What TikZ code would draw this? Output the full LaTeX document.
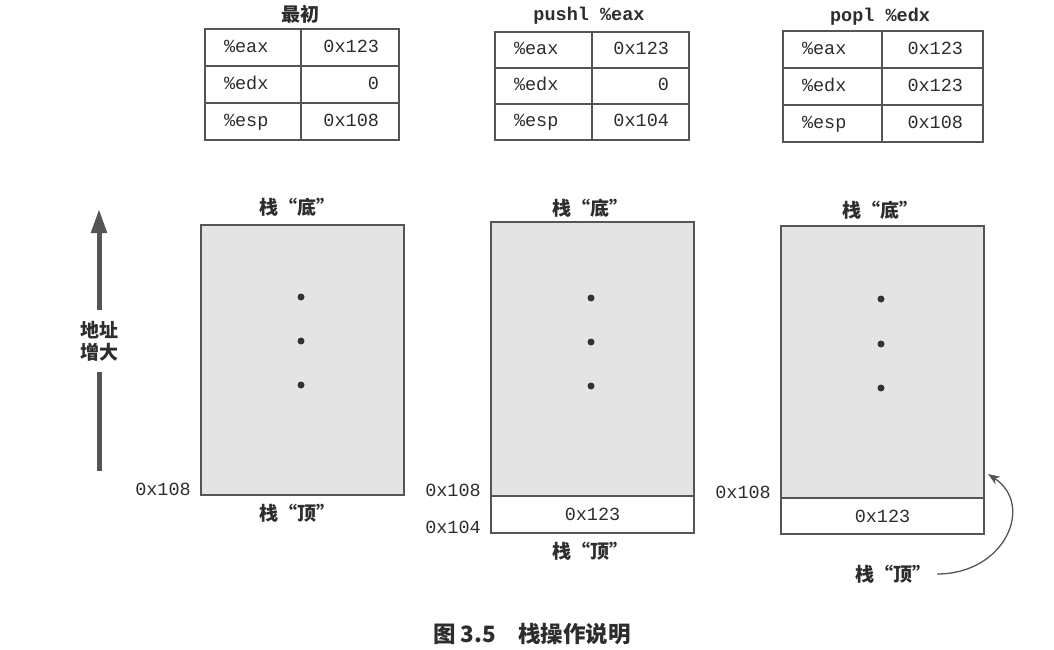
\documentclass[tikz,border=0pt]{standalone}
\usepackage{fontspec}
\setmainfont{Liberation Serif}
\setmonofont{Liberation Mono}
\newfontfamily\cjk{Noto Sans CJK SC}
\usetikzlibrary{arrows.meta}
\definecolor{linec}{RGB}{85,85,85}
\definecolor{txtc}{RGB}{45,45,45}
\definecolor{stackfill}{RGB}{228,228,228}
\definecolor{dotc}{RGB}{50,50,50}
\newcommand\monotxt{\fontsize{18.5}{20}\selectfont\ttfamily}
\newcommand\cjktxt{\fontsize{19}{22}\selectfont\cjk\bfseries}
\tikzset{
  cell/.style={draw=linec, line width=1.1pt, inner ysep=0pt, outer sep=0pt,
    anchor=north west, font=\monotxt, text=txtc, text height=12pt, text depth=2pt},
  stackbox/.style={draw=linec, line width=1.1pt, fill=stackfill, inner sep=0pt,
    outer sep=0pt, anchor=north west},
  slot/.style={draw=linec, line width=1.1pt, fill=white, inner sep=0pt,
    outer sep=0pt, anchor=north west, font=\monotxt, text=txtc},
  addr/.style={font=\monotxt, text=txtc, anchor=east, inner sep=0pt},
  title/.style={font=\monotxt\bfseries, text=txtc, inner sep=0pt},
  cjklab/.style={font=\cjktxt, text=txtc, inner sep=0pt},
  dot/.style={circle, fill=dotc, inner sep=0pt, minimum size=7pt},
}
% #1 prefix, #2 x, #3 y, #4 left text width, #5 right text width, #6 row height, #7 edx, #8 esp
\newcommand\regtable[8]{%
  \node[cell, text width=#4pt, inner xsep=19pt, align=left, minimum height=#6pt] (#1a) at (#2,#3) {\%eax};
  \node[cell, text width=#4pt, inner xsep=19pt, align=left, minimum height=#6pt] (#1d) at (#1a.south west) {\%edx};
  \node[cell, text width=#4pt, inner xsep=19pt, align=left, minimum height=#6pt] (#1s) at (#1d.south west) {\%esp};
  \node[cell, text width=#5pt, inner xsep=20pt, align=right, minimum height=#6pt] (#1av) at (#1a.north east) {0x123};
  \node[cell, text width=#5pt, inner xsep=20pt, align=right, minimum height=#6pt] (#1dv) at (#1d.north east) {#7};
  \node[cell, text width=#5pt, inner xsep=20pt, align=right, minimum height=#6pt] (#1sv) at (#1s.north east) {#8};
}
\begin{document}
\begin{tikzpicture}[x=1pt, y=-1pt]
\useasboundingbox[fill=white] (0,0) rectangle (1054,650);

% register tables
\node[cjklab] (t1) at (300,14) {最初};
\regtable{A}{205}{29}{58}{58}{37}{0}{0x108}
\node[title] (t2) at (589,16) {pushl \%eax};
\regtable{B}{495}{32}{59}{57}{36}{0}{0x104}
\node[title] (t3) at (880,17) {popl \%edx};
\regtable{C}{783}{31}{61}{61}{37}{0x123}{0x108}

% address growth arrow
\coordinate (abot) at (99,471);
\coordinate (atop) at (99,209);
\node[cjklab, align=center, minimum height=62pt] (grow) at (99,341) {地址\\[0pt]增大};
\draw[line width=5pt, draw=linec] (abot) -- (grow.south);
\draw[line width=5pt, draw=linec, -{Triangle[length=24pt, width=15pt]}] (grow.north) -- (atop);

% stack 1
\node[cjklab] (b1) at (297,207) {栈“底”};
\node[stackbox, minimum width=203pt, minimum height=270pt] (s1) at (201,225) {};
\node[dot] (d11) at (301,297) {};
\node[dot] (d12) at (301,341) {};
\node[dot] (d13) at (301,385) {};
\node[addr] (a1) at (191,489) {0x108};
\node[cjklab] (p1) at (297,513) {栈“顶”};

% stack 2
\node[cjklab] (b2) at (590,208) {栈“底”};
\node[stackbox, minimum width=203pt, minimum height=274pt] (s2) at (491,222) {};
\node[slot, minimum width=203pt, minimum height=37pt] (s2v) at (s2.south west) {0x123};
\node[dot] (d21) at (591,298) {};
\node[dot] (d22) at (591,342) {};
\node[dot] (d23) at (591,386) {};
\node[addr] (a21) at (481,490) {0x108};
\node[addr] (a22) at (481,527) {0x104};
\node[cjklab] (p2) at (590,551) {栈“顶”};

% stack 3
\node[cjklab] (b3) at (880,210) {栈“底”};
\node[stackbox, minimum width=203pt, minimum height=272pt] (s3) at (781,226) {};
\node[slot, minimum width=203pt, minimum height=36pt] (s3v) at (s3.south west) {0x123};
\node[dot] (d31) at (881,299) {};
\node[dot] (d32) at (881,344) {};
\node[dot] (d33) at (881,388) {};
\node[addr] (a3) at (771,492) {0x108};
\node[cjklab] (p3) at (893,574) {栈“顶”};
\coordinate (tip3) at (988,474);
\draw[line width=1.3pt, draw=linec, -{Stealth[length=12pt, width=9pt]}]
  ([xshift=6pt]p3.east) .. controls (1005,574) and (1035,505) .. (tip3);

% caption
\node[font=\fontsize{22.5}{26}\selectfont\cjk\bfseries, text=txtc, inner sep=0pt] (cap) at (532,634) {图 3.5\quad 栈操作说明};
\end{tikzpicture}
\end{document}
